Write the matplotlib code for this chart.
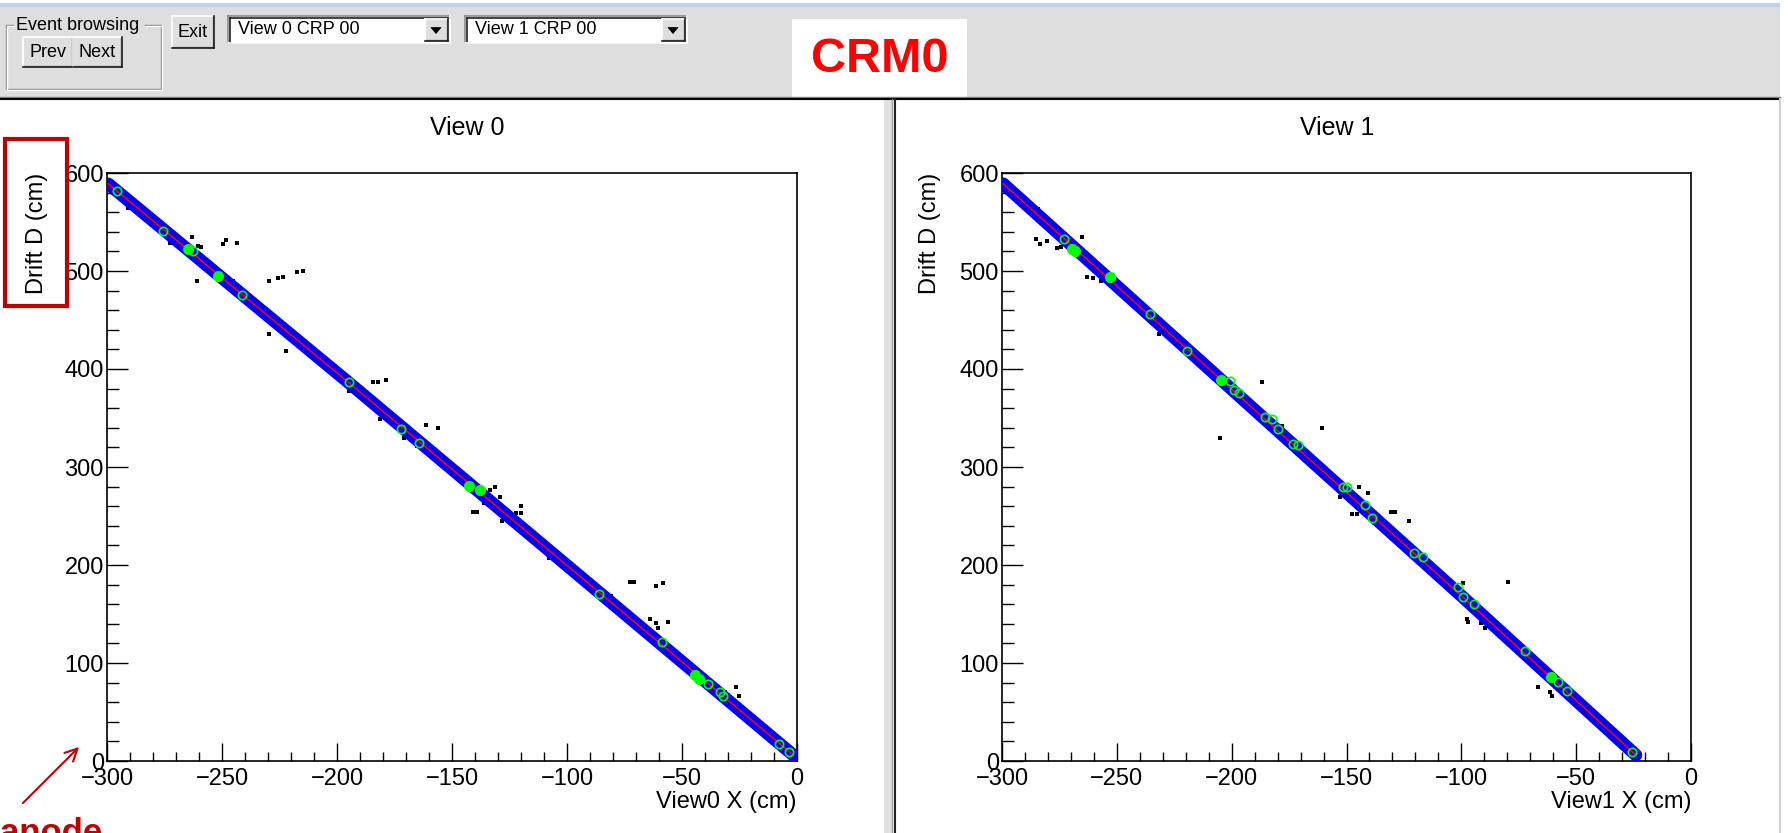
"""
Event display screenshot: two drift views (View 0 / View 1) of CRM0
with the ROOT-like toolbar on top.
"""

import numpy as np
import matplotlib
matplotlib.use("Agg")
import matplotlib.pyplot as plt
from matplotlib.patches import Rectangle, Polygon

plt.rcParams['font.family'] = ['Liberation Sans', 'DejaVu Sans']

W, H = 1788, 833

### data ###
# fitted track (red line / blue hit band), view 0
view0_track_x = [-299.4, -194.6, -1.6]
view0_track_y = [588.8, 385.5, 6.0]
# stray hits (black squares), view 0
view0_hits_x = [-290.7, -272.6, -262.9, -260.6, -259.1, -249.4, -248.3, -243.6,
                -261.0, -245.0, -229.6, -225.5, -223.3, -217.3, -214.6, -229.6,
                -222.3, -194.6, -193.3, -184.2, -182.0, -178.7, -181.3, -170.9,
                -165.4, -161.3, -156.0, -141.0, -139.0, -136.0, -133.5, -131.3,
                -129.1, -128.4, -122.2, -120.0, -120.0, -107.7, -81.0, -72.8,
                -71.0, -61.4, -58.1, -63.9, -61.3, -60.6, -56.2, -31.3, -26.7, -25.2]
view0_hits_y = [564.0, 529.0, 535.0, 525.5, 524.0, 527.6, 532.0, 529.0,
                490.0, 490.0, 490.0, 492.6, 493.6, 498.7, 500.3, 435.4,
                418.4, 377.6, 386.7, 386.7, 386.7, 388.4, 349.0, 329.3,
                321.7, 342.9, 340.0, 253.8, 253.8, 263.0, 276.5, 280.0,
                268.9, 244.9, 252.7, 260.2, 252.7, 206.7, 168.7, 183.0,
                183.0, 178.6, 181.3, 144.9, 140.5, 136.0, 142.0, 70.7, 75.8, 66.3]
# cluster points (green circles), view 0
view0_clus_x = [-295.8, -275.8, -262.5, -251.6, -241.4, -194.6, -172.2, -164.4,
                -85.9, -58.9, -38.9, -33.5, -32.3, -7.8, -3.3]
view0_clus_y = [582.0, 541.0, 520.4, 495.0, 475.5, 387.0, 338.5, 324.2,
                170.4, 121.0, 78.6, 69.9, 66.3, 17.0, 9.5]
view0_blob_x = [-264.7, -251.6, -142.5, -137.8, -44.5, -42.5]
view0_blob_y = [522.0, 495.0, 281.0, 276.5, 88.0, 84.0]

# view 1
view1_track_x = [-299.5, -99.4, -24.0]
view1_track_y = [589.0, 167.3, 6.1]
view1_hits_x = [-284.2, -285.2, -283.5, -280.3, -276.2, -274.4, -265.0, -263.1,
                -260.5, -257.0, -231.6, -205.1, -186.9, -178.2, -160.8, -152.8,
                -144.4, -140.8, -147.7, -145.3, -130.6, -128.9, -123.0, -99.1,
                -79.6, -97.7, -97.0, -91.6, -89.7, -66.5, -61.4, -60.7]
view1_hits_y = [563.3, 532.3, 527.6, 530.6, 523.8, 524.8, 535.0, 494.0,
                492.4, 489.8, 435.4, 329.3, 386.7, 342.1, 340.0, 269.0,
                280.0, 273.9, 252.0, 252.0, 254.3, 254.3, 244.9, 181.3,
                183.0, 144.9, 141.5, 140.5, 136.0, 75.8, 70.7, 66.3]
view1_clus_x = [-272.9, -235.6, -219.3, -200.7, -199.0, -196.7, -185.5, -182.6,
                -180.0, -173.2, -171.0, -151.4, -149.9, -141.9, -139.0, -120.6,
                -116.6, -101.3, -99.4, -94.5, -72.3, -57.8, -54.1, -25.8]
view1_clus_y = [532.3, 455.8, 418.4, 388.0, 378.6, 375.2, 351.3, 349.0,
                338.8, 323.5, 322.4, 280.0, 280.0, 261.7, 248.4, 211.8,
                207.7, 177.7, 167.6, 159.9, 112.2, 80.9, 71.4, 9.5]
view1_blob_x = [-269.4, -268.0, -253.0, -204.6, -61.0]
view1_blob_y = [522.1, 520.0, 494.2, 388.8, 86.0]

x_ticks = [-300, -250, -200, -150, -100, -50, 0]
y_ticks = [0, 100, 200, 300, 400, 500, 600]


def px_axes(fig, x0, y0, x1, y1):
    """add an axes given its pixel box (origin top-left)"""
    return fig.add_axes([x0 / W, 1 - y1 / H, (x1 - x0) / W, (y1 - y0) / H])


def raised(ax, x0, y0, x1, y1):
    """raised gui button"""
    ax.add_patch(Rectangle((x0, y0), x1 - x0, y1 - y0, fc='#dedede', ec='none'))
    ax.plot([x0, x1], [y0, y0], color='white', lw=1.2)
    ax.plot([x0, x0], [y0, y1], color='white', lw=1.2)
    ax.plot([x0 + 1, x1 - 1], [y1 - 1.5, y1 - 1.5], color='#8a8a8a', lw=1)
    ax.plot([x1 - 1.5, x1 - 1.5], [y0 + 1, y1 - 1], color='#8a8a8a', lw=1)
    ax.plot([x0, x1], [y1, y1], color='#202020', lw=1.2)
    ax.plot([x1, x1], [y0, y1], color='#202020', lw=1.2)


def combo(ax, x0, y0, x1, y1, label):
    """sunken combo box with a drop down arrow"""
    ax.add_patch(Rectangle((x0, y0), x1 - x0, y1 - y0, fc='white', ec='none'))
    ax.plot([x0, x1], [y0, y0], color='#8a8a8a', lw=1.2)
    ax.plot([x0, x0], [y0, y1], color='#8a8a8a', lw=1.2)
    ax.plot([x0 + 1.5, x1], [y0 + 1.5, y0 + 1.5], color='#202020', lw=1.2)
    ax.plot([x0 + 1.5, x0 + 1.5], [y0 + 1.5, y1], color='#202020', lw=1.2)
    ax.plot([x0, x1], [y1, y1], color='white', lw=1.2)
    ax.plot([x1, x1], [y0, y1], color='white', lw=1.2)
    raised(ax, x1 - 25, y0 + 3, x1 - 2, y1 - 2)
    cx, cy = x1 - 14, (y0 + y1) / 2 + 1
    ax.add_patch(Polygon([[cx - 5, cy - 3], [cx + 5, cy - 3], [cx, cy + 3]],
                         closed=True, fc='black', ec='black', lw=0.5))
    ax.text(x0 + 10, (y0 + y1) / 2, label, fontsize=13, ha='left', va='center')


def draw_gui(ax):
    """toolbar, frames and separators"""
    ax.add_patch(Rectangle((0, 3), 1780, 4, fc='#bcd3ec', ec='none'))
    ax.add_patch(Rectangle((0, 7), 1780, 90, fc='#dedede', ec='none'))

    # group frame "Event browsing"
    for off, col in [(0, '#8a8a8a'), (1.2, 'white')]:
        ax.plot([13 + off, 6 + off, 6 + off, 161 + off, 161 + off, 145 + off],
                [25 + off, 25 + off, 89 + off, 89 + off, 25 + off, 25 + off],
                color=col, lw=1)
    ax.text(16, 25, 'Event browsing', fontsize=13, ha='left', va='center')
    raised(ax, 23, 37, 73, 67)
    raised(ax, 73, 37, 122, 67)
    ax.text(48, 52, 'Prev', fontsize=13, ha='center', va='center')
    ax.text(97.5, 52, 'Next', fontsize=13, ha='center', va='center')

    raised(ax, 172, 16, 214, 48)
    ax.text(193, 32, 'Exit', fontsize=13, ha='center', va='center')
    combo(ax, 228, 16, 450, 43, 'View 0 CRP 00')
    combo(ax, 465, 16, 687, 43, 'View 1 CRP 00')

    # CRM0 label
    ax.add_patch(Rectangle((792, 19), 175, 78, fc='white', ec='none'))
    ax.text(880, 59, 'CRM0', fontsize=35, fontweight='bold', color='#ff0000',
            ha='center', va='center')

    # bottom border of the toolbar
    ax.plot([0, 1780], [96.5, 96.5], color='#808080', lw=1)
    ax.plot([0, 1780], [98.5, 98.5], color='black', lw=1.5)

    # separator between the two canvases
    ax.add_patch(Rectangle((884, 99), 8, H - 99, fc='#e0e0e0', ec='none'))
    ax.plot([892, 892], [99, H], color='#9a9a9a', lw=1)
    ax.plot([895, 895], [99, H], color='#202020', lw=1.5)
    ax.plot([1780, 1780], [99, H], color='#d0d0d0', lw=1.5)

    ax.text(467, 128, 'View 0', fontsize=18, ha='center', va='center')
    ax.text(1337, 128, 'View 1', fontsize=18, ha='center', va='center')


def draw_view(ax, tx, ty, hx, hy, cx, cy, bx, by, xlabel, ylab_x):
    """one drift view"""
    ax.scatter(hx, hy, marker='s', s=12, color='black', linewidths=0, zorder=2)
    ax.plot(tx, ty, color='#0000ff', lw=9.2, solid_capstyle='round', zorder=3)
    ax.plot(tx, ty, color='#ff0000', lw=1.1, zorder=4)
    ax.plot(bx, by, 'o', color='#00ff00', ms=7, zorder=5)
    ax.plot(cx, cy, 'o', mfc='none', mec='#00ff00', ms=6, mew=1.2, zorder=6)

    ax.set_xlim(-300, 0)
    ax.set_ylim(0, 600)
    ax.set_xticks(x_ticks)
    ax.set_yticks(y_ticks)
    ax.set_xticks(np.arange(-300, 1, 10), minor=True)
    ax.set_yticks(np.arange(0, 601, 20), minor=True)
    ax.tick_params(axis='both', which='both', direction='in', top=False,
                   right=False, width=1, labelsize=17)
    ax.tick_params(axis='y', which='major', length=15, pad=2.2)
    ax.tick_params(axis='y', which='minor', length=8.6)
    ax.tick_params(axis='x', which='major', length=13, pad=5)
    ax.tick_params(axis='x', which='minor', length=6.5)
    for spine in ax.spines.values():
        spine.set_linewidth(1.2)

    ax.set_xlabel(xlabel, fontsize=17, ha='right', va='top')
    ax.xaxis.set_label_coords(1.0, -30 / 588)
    ax.set_ylabel('Drift D (cm)', fontsize=17, ha='right', va='center',
                  rotation_mode='anchor')
    ax.yaxis.set_label_coords(ylab_x, 1.0)


if __name__ == "__main__":
    fig = plt.figure(figsize=(W / 100, H / 100), dpi=100)

    bg = fig.add_axes([0, 0, 1, 1])
    bg.set_xlim(0, W)
    bg.set_ylim(H, 0)
    bg.axis('off')
    draw_gui(bg)

    ax0 = px_axes(fig, 107, 173, 797, 761)
    draw_view(ax0, view0_track_x, view0_track_y, view0_hits_x, view0_hits_y,
              view0_clus_x, view0_clus_y, view0_blob_x, view0_blob_y,
              'View0 X (cm)', (37 - 107) / 690)

    ax1 = px_axes(fig, 1002, 173, 1691, 761)
    draw_view(ax1, view1_track_x, view1_track_y, view1_hits_x, view1_hits_y,
              view1_clus_x, view1_clus_y, view1_blob_x, view1_blob_y,
              'View1 X (cm)', (930 - 1002) / 689)

    # annotations drawn over everything
    top = fig.add_axes([0, 0, 1, 1], facecolor='none')
    top.set_xlim(0, W)
    top.set_ylim(H, 0)
    top.axis('off')
    top.add_patch(Rectangle((5, 139), 62, 167, fc='none', ec='#c00000', lw=3))
    top.annotate('', xy=(81, 745), xytext=(21, 805),
                 arrowprops=dict(arrowstyle='->', color='#c00000', lw=1.5,
                                 mutation_scale=22))
    # label at the lower edge, mostly cut off by the border as in the screenshot
    top.text(0, 843, 'anode', fontsize=25, fontweight='bold', color='#c00000',
             ha='left', va='baseline', clip_on=False)

    fig.savefig('out.png', dpi=100)
